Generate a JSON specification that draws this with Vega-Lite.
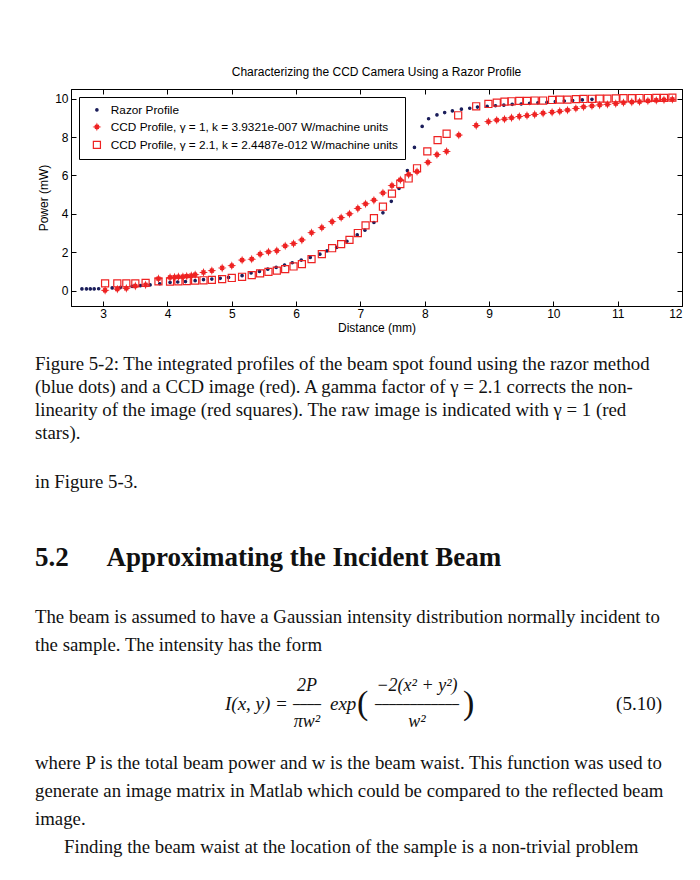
{
  "$schema": "https://vega.github.io/schema/vega-lite/v6.json",
  "background": "white",
  "padding": {"left": 35, "top": 65, "right": 5, "bottom": 0},
  "spacing": 0,
  "bounds": "flush",
  "config": {
    "view": {"stroke": null},
    "font": "Liberation Sans",
    "axis": {
      "grid": false,
      "domainColor": "#000",
      "tickColor": "#000",
      "labelColor": "#000",
      "titleColor": "#000",
      "labelFont": "Liberation Sans",
      "labelFontSize": 12,
      "titleFont": "Liberation Sans",
      "titleFontSize": 12,
      "titleFontWeight": "normal",
      "tickSize": -5,
      "labelPadding": 8
    },
    "legend": {
      "orient": "top-left",
      "offset": 8,
      "padding": 7,
      "fillColor": "#fff",
      "strokeColor": "#000",
      "labelFont": "Liberation Sans",
      "labelFontSize": 11.8,
      "labelColor": "#000",
      "labelLimit": 0,
      "rowPadding": 4,
      "symbolOffset": 5,
      "labelOffset": 8,
      "symbolStrokeWidth": 1.2
    }
  },
  "vconcat": [
    {
      "width": 611,
      "height": 217,
      "view": {"stroke": "#000", "strokeWidth": 1},
      "title": {"text": "Characterizing the CCD Camera Using a Razor Profile", "font": "Liberation Sans", "fontSize": 12, "fontWeight": "normal", "color": "#000", "offset": 10},
      "data": {"values": [
        {"series": "Razor Profile", "distance": 2.67, "power": 0.09},
        {"series": "Razor Profile", "distance": 2.74, "power": 0.09},
        {"series": "Razor Profile", "distance": 2.80, "power": 0.09},
        {"series": "Razor Profile", "distance": 2.86, "power": 0.09},
        {"series": "Razor Profile", "distance": 2.93, "power": 0.10},
        {"series": "Razor Profile", "distance": 3.14, "power": 0.14},
        {"series": "Razor Profile", "distance": 3.27, "power": 0.17},
        {"series": "Razor Profile", "distance": 3.45, "power": 0.22},
        {"series": "Razor Profile", "distance": 3.58, "power": 0.26},
        {"series": "Razor Profile", "distance": 3.73, "power": 0.30},
        {"series": "Razor Profile", "distance": 3.88, "power": 0.36},
        {"series": "Razor Profile", "distance": 4.04, "power": 0.43},
        {"series": "Razor Profile", "distance": 4.16, "power": 0.45},
        {"series": "Razor Profile", "distance": 4.28, "power": 0.47},
        {"series": "Razor Profile", "distance": 4.43, "power": 0.52},
        {"series": "Razor Profile", "distance": 4.56, "power": 0.57},
        {"series": "Razor Profile", "distance": 4.69, "power": 0.60},
        {"series": "Razor Profile", "distance": 4.82, "power": 0.64},
        {"series": "Razor Profile", "distance": 4.95, "power": 0.69},
        {"series": "Razor Profile", "distance": 5.16, "power": 0.78},
        {"series": "Razor Profile", "distance": 5.30, "power": 0.92},
        {"series": "Razor Profile", "distance": 5.43, "power": 1.00},
        {"series": "Razor Profile", "distance": 5.56, "power": 1.12},
        {"series": "Razor Profile", "distance": 5.69, "power": 1.21},
        {"series": "Razor Profile", "distance": 5.82, "power": 1.33},
        {"series": "Razor Profile", "distance": 5.94, "power": 1.45},
        {"series": "Razor Profile", "distance": 6.08, "power": 1.59},
        {"series": "Razor Profile", "distance": 6.22, "power": 1.73},
        {"series": "Razor Profile", "distance": 6.37, "power": 1.90},
        {"series": "Razor Profile", "distance": 6.48, "power": 2.07},
        {"series": "Razor Profile", "distance": 6.63, "power": 2.25},
        {"series": "Razor Profile", "distance": 6.79, "power": 2.57},
        {"series": "Razor Profile", "distance": 6.95, "power": 2.90},
        {"series": "Razor Profile", "distance": 7.07, "power": 3.15},
        {"series": "Razor Profile", "distance": 7.21, "power": 3.55},
        {"series": "Razor Profile", "distance": 7.35, "power": 4.05},
        {"series": "Razor Profile", "distance": 7.48, "power": 4.65},
        {"series": "Razor Profile", "distance": 7.60, "power": 5.32},
        {"series": "Razor Profile", "distance": 7.73, "power": 6.25},
        {"series": "Razor Profile", "distance": 7.84, "power": 7.46},
        {"series": "Razor Profile", "distance": 7.96, "power": 8.55},
        {"series": "Razor Profile", "distance": 8.06, "power": 8.95},
        {"series": "Razor Profile", "distance": 8.19, "power": 9.15},
        {"series": "Razor Profile", "distance": 8.31, "power": 9.27},
        {"series": "Razor Profile", "distance": 8.43, "power": 9.36},
        {"series": "Razor Profile", "distance": 8.57, "power": 9.45},
        {"series": "Razor Profile", "distance": 8.70, "power": 9.50},
        {"series": "Razor Profile", "distance": 8.82, "power": 9.56},
        {"series": "Razor Profile", "distance": 8.97, "power": 9.60},
        {"series": "Razor Profile", "distance": 9.10, "power": 9.63},
        {"series": "Razor Profile", "distance": 9.23, "power": 9.66},
        {"series": "Razor Profile", "distance": 9.36, "power": 9.70},
        {"series": "Razor Profile", "distance": 9.50, "power": 9.72},
        {"series": "Razor Profile", "distance": 9.63, "power": 9.75},
        {"series": "Razor Profile", "distance": 9.76, "power": 9.78},
        {"series": "Razor Profile", "distance": 9.90, "power": 9.80},
        {"series": "Razor Profile", "distance": 10.03, "power": 9.84},
        {"series": "Razor Profile", "distance": 10.17, "power": 9.87},
        {"series": "Razor Profile", "distance": 10.30, "power": 9.90},
        {"series": "Razor Profile", "distance": 10.45, "power": 9.93},
        {"series": "Razor Profile", "distance": 10.60, "power": 9.96},

        {"series": "CCD Profile, γ = 1, k = 3.9321e-007 W/machine units", "distance": 3.03, "power": 0.02},
        {"series": "CCD Profile, γ = 1, k = 3.9321e-007 W/machine units", "distance": 3.22, "power": 0.08},
        {"series": "CCD Profile, γ = 1, k = 3.9321e-007 W/machine units", "distance": 3.36, "power": 0.12},
        {"series": "CCD Profile, γ = 1, k = 3.9321e-007 W/machine units", "distance": 3.50, "power": 0.24},
        {"series": "CCD Profile, γ = 1, k = 3.9321e-007 W/machine units", "distance": 3.66, "power": 0.30},
        {"series": "CCD Profile, γ = 1, k = 3.9321e-007 W/machine units", "distance": 3.86, "power": 0.62},
        {"series": "CCD Profile, γ = 1, k = 3.9321e-007 W/machine units", "distance": 4.04, "power": 0.69},
        {"series": "CCD Profile, γ = 1, k = 3.9321e-007 W/machine units", "distance": 4.11, "power": 0.70},
        {"series": "CCD Profile, γ = 1, k = 3.9321e-007 W/machine units", "distance": 4.17, "power": 0.72},
        {"series": "CCD Profile, γ = 1, k = 3.9321e-007 W/machine units", "distance": 4.24, "power": 0.73},
        {"series": "CCD Profile, γ = 1, k = 3.9321e-007 W/machine units", "distance": 4.30, "power": 0.75},
        {"series": "CCD Profile, γ = 1, k = 3.9321e-007 W/machine units", "distance": 4.37, "power": 0.78},
        {"series": "CCD Profile, γ = 1, k = 3.9321e-007 W/machine units", "distance": 4.43, "power": 0.83},
        {"series": "CCD Profile, γ = 1, k = 3.9321e-007 W/machine units", "distance": 4.56, "power": 0.95},
        {"series": "CCD Profile, γ = 1, k = 3.9321e-007 W/machine units", "distance": 4.69, "power": 1.04},
        {"series": "CCD Profile, γ = 1, k = 3.9321e-007 W/machine units", "distance": 4.85, "power": 1.18},
        {"series": "CCD Profile, γ = 1, k = 3.9321e-007 W/machine units", "distance": 5.00, "power": 1.30},
        {"series": "CCD Profile, γ = 1, k = 3.9321e-007 W/machine units", "distance": 5.16, "power": 1.59},
        {"series": "CCD Profile, γ = 1, k = 3.9321e-007 W/machine units", "distance": 5.31, "power": 1.64},
        {"series": "CCD Profile, γ = 1, k = 3.9321e-007 W/machine units", "distance": 5.44, "power": 1.90},
        {"series": "CCD Profile, γ = 1, k = 3.9321e-007 W/machine units", "distance": 5.57, "power": 2.02},
        {"series": "CCD Profile, γ = 1, k = 3.9321e-007 W/machine units", "distance": 5.70, "power": 2.08},
        {"series": "CCD Profile, γ = 1, k = 3.9321e-007 W/machine units", "distance": 5.83, "power": 2.33},
        {"series": "CCD Profile, γ = 1, k = 3.9321e-007 W/machine units", "distance": 5.96, "power": 2.45},
        {"series": "CCD Profile, γ = 1, k = 3.9321e-007 W/machine units", "distance": 6.09, "power": 2.64},
        {"series": "CCD Profile, γ = 1, k = 3.9321e-007 W/machine units", "distance": 6.24, "power": 3.02},
        {"series": "CCD Profile, γ = 1, k = 3.9321e-007 W/machine units", "distance": 6.40, "power": 3.28},
        {"series": "CCD Profile, γ = 1, k = 3.9321e-007 W/machine units", "distance": 6.56, "power": 3.59},
        {"series": "CCD Profile, γ = 1, k = 3.9321e-007 W/machine units", "distance": 6.70, "power": 3.80},
        {"series": "CCD Profile, γ = 1, k = 3.9321e-007 W/machine units", "distance": 6.83, "power": 4.00},
        {"series": "CCD Profile, γ = 1, k = 3.9321e-007 W/machine units", "distance": 6.96, "power": 4.28},
        {"series": "CCD Profile, γ = 1, k = 3.9321e-007 W/machine units", "distance": 7.08, "power": 4.52},
        {"series": "CCD Profile, γ = 1, k = 3.9321e-007 W/machine units", "distance": 7.21, "power": 4.71},
        {"series": "CCD Profile, γ = 1, k = 3.9321e-007 W/machine units", "distance": 7.35, "power": 5.09},
        {"series": "CCD Profile, γ = 1, k = 3.9321e-007 W/machine units", "distance": 7.49, "power": 5.47},
        {"series": "CCD Profile, γ = 1, k = 3.9321e-007 W/machine units", "distance": 7.62, "power": 5.77},
        {"series": "CCD Profile, γ = 1, k = 3.9321e-007 W/machine units", "distance": 7.75, "power": 6.05},
        {"series": "CCD Profile, γ = 1, k = 3.9321e-007 W/machine units", "distance": 7.88, "power": 6.20},
        {"series": "CCD Profile, γ = 1, k = 3.9321e-007 W/machine units", "distance": 8.05, "power": 6.68},
        {"series": "CCD Profile, γ = 1, k = 3.9321e-007 W/machine units", "distance": 8.19, "power": 7.08},
        {"series": "CCD Profile, γ = 1, k = 3.9321e-007 W/machine units", "distance": 8.34, "power": 7.25},
        {"series": "CCD Profile, γ = 1, k = 3.9321e-007 W/machine units", "distance": 8.53, "power": 8.10},
        {"series": "CCD Profile, γ = 1, k = 3.9321e-007 W/machine units", "distance": 8.80, "power": 8.60},
        {"series": "CCD Profile, γ = 1, k = 3.9321e-007 W/machine units", "distance": 8.99, "power": 8.80},
        {"series": "CCD Profile, γ = 1, k = 3.9321e-007 W/machine units", "distance": 9.12, "power": 8.88},
        {"series": "CCD Profile, γ = 1, k = 3.9321e-007 W/machine units", "distance": 9.24, "power": 8.93},
        {"series": "CCD Profile, γ = 1, k = 3.9321e-007 W/machine units", "distance": 9.35, "power": 9.00},
        {"series": "CCD Profile, γ = 1, k = 3.9321e-007 W/machine units", "distance": 9.47, "power": 9.07},
        {"series": "CCD Profile, γ = 1, k = 3.9321e-007 W/machine units", "distance": 9.59, "power": 9.12},
        {"series": "CCD Profile, γ = 1, k = 3.9321e-007 W/machine units", "distance": 9.71, "power": 9.17},
        {"series": "CCD Profile, γ = 1, k = 3.9321e-007 W/machine units", "distance": 9.84, "power": 9.24},
        {"series": "CCD Profile, γ = 1, k = 3.9321e-007 W/machine units", "distance": 9.98, "power": 9.29},
        {"series": "CCD Profile, γ = 1, k = 3.9321e-007 W/machine units", "distance": 10.10, "power": 9.34},
        {"series": "CCD Profile, γ = 1, k = 3.9321e-007 W/machine units", "distance": 10.22, "power": 9.40},
        {"series": "CCD Profile, γ = 1, k = 3.9321e-007 W/machine units", "distance": 10.35, "power": 9.49},
        {"series": "CCD Profile, γ = 1, k = 3.9321e-007 W/machine units", "distance": 10.47, "power": 9.57},
        {"series": "CCD Profile, γ = 1, k = 3.9321e-007 W/machine units", "distance": 10.60, "power": 9.62},
        {"series": "CCD Profile, γ = 1, k = 3.9321e-007 W/machine units", "distance": 10.72, "power": 9.67},
        {"series": "CCD Profile, γ = 1, k = 3.9321e-007 W/machine units", "distance": 10.84, "power": 9.70},
        {"series": "CCD Profile, γ = 1, k = 3.9321e-007 W/machine units", "distance": 10.97, "power": 9.74},
        {"series": "CCD Profile, γ = 1, k = 3.9321e-007 W/machine units", "distance": 11.09, "power": 9.79},
        {"series": "CCD Profile, γ = 1, k = 3.9321e-007 W/machine units", "distance": 11.22, "power": 9.82},
        {"series": "CCD Profile, γ = 1, k = 3.9321e-007 W/machine units", "distance": 11.34, "power": 9.84},
        {"series": "CCD Profile, γ = 1, k = 3.9321e-007 W/machine units", "distance": 11.47, "power": 9.88},
        {"series": "CCD Profile, γ = 1, k = 3.9321e-007 W/machine units", "distance": 11.60, "power": 9.91},
        {"series": "CCD Profile, γ = 1, k = 3.9321e-007 W/machine units", "distance": 11.72, "power": 9.94},
        {"series": "CCD Profile, γ = 1, k = 3.9321e-007 W/machine units", "distance": 11.85, "power": 9.96},

        {"series": "CCD Profile, γ = 2.1, k = 2.4487e-012 W/machine units", "distance": 3.03, "power": 0.38},
        {"series": "CCD Profile, γ = 2.1, k = 2.4487e-012 W/machine units", "distance": 3.22, "power": 0.38},
        {"series": "CCD Profile, γ = 2.1, k = 2.4487e-012 W/machine units", "distance": 3.36, "power": 0.38},
        {"series": "CCD Profile, γ = 2.1, k = 2.4487e-012 W/machine units", "distance": 3.50, "power": 0.38},
        {"series": "CCD Profile, γ = 2.1, k = 2.4487e-012 W/machine units", "distance": 3.66, "power": 0.40},
        {"series": "CCD Profile, γ = 2.1, k = 2.4487e-012 W/machine units", "distance": 3.86, "power": 0.48},
        {"series": "CCD Profile, γ = 2.1, k = 2.4487e-012 W/machine units", "distance": 4.04, "power": 0.47},
        {"series": "CCD Profile, γ = 2.1, k = 2.4487e-012 W/machine units", "distance": 4.17, "power": 0.48},
        {"series": "CCD Profile, γ = 2.1, k = 2.4487e-012 W/machine units", "distance": 4.30, "power": 0.50},
        {"series": "CCD Profile, γ = 2.1, k = 2.4487e-012 W/machine units", "distance": 4.43, "power": 0.52},
        {"series": "CCD Profile, γ = 2.1, k = 2.4487e-012 W/machine units", "distance": 4.56, "power": 0.54},
        {"series": "CCD Profile, γ = 2.1, k = 2.4487e-012 W/machine units", "distance": 4.69, "power": 0.56},
        {"series": "CCD Profile, γ = 2.1, k = 2.4487e-012 W/machine units", "distance": 4.85, "power": 0.60},
        {"series": "CCD Profile, γ = 2.1, k = 2.4487e-012 W/machine units", "distance": 5.00, "power": 0.66},
        {"series": "CCD Profile, γ = 2.1, k = 2.4487e-012 W/machine units", "distance": 5.16, "power": 0.72},
        {"series": "CCD Profile, γ = 2.1, k = 2.4487e-012 W/machine units", "distance": 5.31, "power": 0.81},
        {"series": "CCD Profile, γ = 2.1, k = 2.4487e-012 W/machine units", "distance": 5.44, "power": 0.90},
        {"series": "CCD Profile, γ = 2.1, k = 2.4487e-012 W/machine units", "distance": 5.57, "power": 0.98},
        {"series": "CCD Profile, γ = 2.1, k = 2.4487e-012 W/machine units", "distance": 5.70, "power": 1.04},
        {"series": "CCD Profile, γ = 2.1, k = 2.4487e-012 W/machine units", "distance": 5.83, "power": 1.12},
        {"series": "CCD Profile, γ = 2.1, k = 2.4487e-012 W/machine units", "distance": 5.96, "power": 1.26},
        {"series": "CCD Profile, γ = 2.1, k = 2.4487e-012 W/machine units", "distance": 6.09, "power": 1.38},
        {"series": "CCD Profile, γ = 2.1, k = 2.4487e-012 W/machine units", "distance": 6.24, "power": 1.64},
        {"series": "CCD Profile, γ = 2.1, k = 2.4487e-012 W/machine units", "distance": 6.40, "power": 1.90},
        {"series": "CCD Profile, γ = 2.1, k = 2.4487e-012 W/machine units", "distance": 6.56, "power": 2.21},
        {"series": "CCD Profile, γ = 2.1, k = 2.4487e-012 W/machine units", "distance": 6.70, "power": 2.42},
        {"series": "CCD Profile, γ = 2.1, k = 2.4487e-012 W/machine units", "distance": 6.83, "power": 2.64},
        {"series": "CCD Profile, γ = 2.1, k = 2.4487e-012 W/machine units", "distance": 6.96, "power": 3.00},
        {"series": "CCD Profile, γ = 2.1, k = 2.4487e-012 W/machine units", "distance": 7.08, "power": 3.40},
        {"series": "CCD Profile, γ = 2.1, k = 2.4487e-012 W/machine units", "distance": 7.21, "power": 3.77},
        {"series": "CCD Profile, γ = 2.1, k = 2.4487e-012 W/machine units", "distance": 7.35, "power": 4.37},
        {"series": "CCD Profile, γ = 2.1, k = 2.4487e-012 W/machine units", "distance": 7.49, "power": 5.05},
        {"series": "CCD Profile, γ = 2.1, k = 2.4487e-012 W/machine units", "distance": 7.62, "power": 5.55},
        {"series": "CCD Profile, γ = 2.1, k = 2.4487e-012 W/machine units", "distance": 7.75, "power": 5.84},
        {"series": "CCD Profile, γ = 2.1, k = 2.4487e-012 W/machine units", "distance": 7.88, "power": 6.37},
        {"series": "CCD Profile, γ = 2.1, k = 2.4487e-012 W/machine units", "distance": 8.04, "power": 7.25},
        {"series": "CCD Profile, γ = 2.1, k = 2.4487e-012 W/machine units", "distance": 8.20, "power": 7.84},
        {"series": "CCD Profile, γ = 2.1, k = 2.4487e-012 W/machine units", "distance": 8.34, "power": 8.17},
        {"series": "CCD Profile, γ = 2.1, k = 2.4487e-012 W/machine units", "distance": 8.52, "power": 9.13},
        {"series": "CCD Profile, γ = 2.1, k = 2.4487e-012 W/machine units", "distance": 8.80, "power": 9.60},
        {"series": "CCD Profile, γ = 2.1, k = 2.4487e-012 W/machine units", "distance": 8.99, "power": 9.72},
        {"series": "CCD Profile, γ = 2.1, k = 2.4487e-012 W/machine units", "distance": 9.12, "power": 9.79},
        {"series": "CCD Profile, γ = 2.1, k = 2.4487e-012 W/machine units", "distance": 9.24, "power": 9.84},
        {"series": "CCD Profile, γ = 2.1, k = 2.4487e-012 W/machine units", "distance": 9.35, "power": 9.86},
        {"series": "CCD Profile, γ = 2.1, k = 2.4487e-012 W/machine units", "distance": 9.47, "power": 9.88},
        {"series": "CCD Profile, γ = 2.1, k = 2.4487e-012 W/machine units", "distance": 9.59, "power": 9.88},
        {"series": "CCD Profile, γ = 2.1, k = 2.4487e-012 W/machine units", "distance": 9.71, "power": 9.90},
        {"series": "CCD Profile, γ = 2.1, k = 2.4487e-012 W/machine units", "distance": 9.84, "power": 9.90},
        {"series": "CCD Profile, γ = 2.1, k = 2.4487e-012 W/machine units", "distance": 9.98, "power": 9.93},
        {"series": "CCD Profile, γ = 2.1, k = 2.4487e-012 W/machine units", "distance": 10.10, "power": 9.95},
        {"series": "CCD Profile, γ = 2.1, k = 2.4487e-012 W/machine units", "distance": 10.22, "power": 9.95},
        {"series": "CCD Profile, γ = 2.1, k = 2.4487e-012 W/machine units", "distance": 10.35, "power": 9.97},
        {"series": "CCD Profile, γ = 2.1, k = 2.4487e-012 W/machine units", "distance": 10.47, "power": 9.98},
        {"series": "CCD Profile, γ = 2.1, k = 2.4487e-012 W/machine units", "distance": 10.60, "power": 9.99},
        {"series": "CCD Profile, γ = 2.1, k = 2.4487e-012 W/machine units", "distance": 10.72, "power": 10.00},
        {"series": "CCD Profile, γ = 2.1, k = 2.4487e-012 W/machine units", "distance": 10.84, "power": 10.00},
        {"series": "CCD Profile, γ = 2.1, k = 2.4487e-012 W/machine units", "distance": 10.97, "power": 10.01},
        {"series": "CCD Profile, γ = 2.1, k = 2.4487e-012 W/machine units", "distance": 11.09, "power": 10.02},
        {"series": "CCD Profile, γ = 2.1, k = 2.4487e-012 W/machine units", "distance": 11.22, "power": 10.02},
        {"series": "CCD Profile, γ = 2.1, k = 2.4487e-012 W/machine units", "distance": 11.34, "power": 10.03},
        {"series": "CCD Profile, γ = 2.1, k = 2.4487e-012 W/machine units", "distance": 11.47, "power": 10.03},
        {"series": "CCD Profile, γ = 2.1, k = 2.4487e-012 W/machine units", "distance": 11.60, "power": 10.04},
        {"series": "CCD Profile, γ = 2.1, k = 2.4487e-012 W/machine units", "distance": 11.72, "power": 10.04},
        {"series": "CCD Profile, γ = 2.1, k = 2.4487e-012 W/machine units", "distance": 11.85, "power": 10.05}
      ]},
      "layer": [
        {
          "mark": {"type": "point", "opacity": 1, "strokeWidth": 1.2},
          "encoding": {
            "x": {"field": "distance", "type": "quantitative",
                  "scale": {"domain": [2.5, 12], "nice": false, "zero": false},
                  "axis": {"orient": "bottom", "values": [3, 4, 5, 6, 7, 8, 9, 10, 11, 12], "title": "Distance (mm)", "titlePadding": 3, "labelPadding": 7}},
            "y": {"field": "power", "type": "quantitative",
                  "scale": {"domain": [-0.8, 10.5], "nice": false, "zero": false},
                  "axis": {"orient": "left", "values": [0, 2, 4, 6, 8, 10], "title": "Power (mW)", "titlePadding": 4}},
            "shape": {"field": "series", "type": "nominal", "title": null,
                      "scale": {"domain": ["Razor Profile", "CCD Profile, γ = 1, k = 3.9321e-007 W/machine units", "CCD Profile, γ = 2.1, k = 2.4487e-012 W/machine units"],
                                "range": ["circle", "M0,-1L0.22,-0.38L0.71,-0.71L0.38,-0.22L1,0L0.38,0.22L0.71,0.71L0.22,0.38L0,1L-0.22,0.38L-0.71,0.71L-0.38,0.22L-1,0L-0.38,-0.22L-0.71,-0.71L-0.22,-0.38Z", "square"]}},
            "fill": {"field": "series", "type": "nominal", "title": null,
                     "scale": {"domain": ["Razor Profile", "CCD Profile, γ = 1, k = 3.9321e-007 W/machine units", "CCD Profile, γ = 2.1, k = 2.4487e-012 W/machine units"],
                               "range": ["#1a1d5a", "#ee2222", "transparent"]}},
            "stroke": {"field": "series", "type": "nominal", "title": null,
                       "scale": {"domain": ["Razor Profile", "CCD Profile, γ = 1, k = 3.9321e-007 W/machine units", "CCD Profile, γ = 2.1, k = 2.4487e-012 W/machine units"],
                                 "range": ["#1a1d5a", "#ee2222", "#ee2222"]}},
            "size": {"field": "series", "type": "nominal", "title": null,
                     "scale": {"domain": ["Razor Profile", "CCD Profile, γ = 1, k = 3.9321e-007 W/machine units", "CCD Profile, γ = 2.1, k = 2.4487e-012 W/machine units"],
                               "range": [6, 50, 40]}}
          }
        },
        {
          "mark": {"type": "point", "opacity": 0},
          "encoding": {
            "x": {"field": "distance", "type": "quantitative",
                  "axis": {"orient": "top", "values": [3, 4, 5, 6, 7, 8, 9, 10, 11, 12], "labels": false, "title": null}},
            "y": {"field": "power", "type": "quantitative",
                  "axis": {"orient": "right", "values": [0, 2, 4, 6, 8, 10], "labels": false, "title": null}}
          }
        }
      ],
      "resolve": {"axis": {"x": "independent", "y": "independent"}}
    },
    {
      "width": 584,
      "height": 138,
      "data": {"values": [
        {"line": 1, "indent": 0, "text": "Figure 5-2: The integrated profiles of the beam spot found using the razor method"},
        {"line": 2, "indent": 0, "text": "(blue dots) and a CCD image (red).  A gamma factor of γ = 2.1 corrects the non-"},
        {"line": 3, "indent": 0, "text": "linearity of the image (red squares).  The raw image is indicated with γ = 1 (red"},
        {"line": 4, "indent": 0, "text": "stars)."}
      ]},
      "mark": {"type": "text", "align": "left", "baseline": "middle", "font": "Liberation Serif", "fontSize": 18.8, "color": "#111"},
      "encoding": {
        "x": {"field": "indent", "type": "quantitative", "scale": {"domain": [0, 1], "range": [-36, -7], "nice": false, "zero": false}, "axis": null},
        "y": {"field": "line", "type": "quantitative", "scale": {"domain": [-1.5, 4.5], "reverse": true, "nice": false, "zero": false}, "axis": null},
        "text": {"field": "text"}
      }
    },
    {
      "width": 584,
      "height": 76,
      "data": {"values": [
        {"line": 1, "indent": 0, "text": "in Figure 5-3."}
      ]},
      "mark": {"type": "text", "align": "left", "baseline": "middle", "font": "Liberation Serif", "fontSize": 18.8, "color": "#111"},
      "encoding": {
        "x": {"field": "indent", "type": "quantitative", "scale": {"domain": [0, 1], "range": [-36, -7], "nice": false, "zero": false}, "axis": null},
        "y": {"field": "line", "type": "quantitative", "scale": {"domain": [0, 2], "reverse": true, "nice": false, "zero": false}, "axis": null},
        "text": {"field": "text"}
      }
    },
    {
      "width": 584,
      "height": 76,
      "data": {"values": [
        {"line": 1, "indent": 0, "text": "5.2\u2003\u2009\u2009Approximating the Incident Beam"}
      ]},
      "mark": {"type": "text", "align": "left", "baseline": "middle", "font": "Liberation Serif", "fontSize": 27, "fontWeight": "bold", "color": "#111"},
      "encoding": {
        "x": {"field": "indent", "type": "quantitative", "scale": {"domain": [0, 1], "range": [-36, -7], "nice": false, "zero": false}, "axis": null},
        "y": {"field": "line", "type": "quantitative", "scale": {"domain": [0, 2], "reverse": true, "nice": false, "zero": false}, "axis": null},
        "text": {"field": "text"}
      }
    },
    {
      "width": 584,
      "height": 70,
      "data": {"values": [
        {"line": 1, "indent": 0, "text": "The beam is assumed to have a Gaussian intensity distribution normally incident to"},
        {"line": 2, "indent": 0, "text": "the sample.  The intensity has the form"}
      ]},
      "mark": {"type": "text", "align": "left", "baseline": "middle", "font": "Liberation Serif", "fontSize": 18.8, "color": "#111"},
      "encoding": {
        "x": {"field": "indent", "type": "quantitative", "scale": {"domain": [0, 1], "range": [-36, -7], "nice": false, "zero": false}, "axis": null},
        "y": {"field": "line", "type": "quantitative", "scale": {"domain": [0.25, 2.75], "reverse": true, "nice": false, "zero": false}, "axis": null},
        "text": {"field": "text"}
      }
    },
    {
      "width": 584,
      "height": 76,
      "data": {"values": [
        {"part": "lhs", "line": 2, "indent": 0, "text": "I(x, y) ="},
        {"part": "frac1", "line": 1, "indent": 0, "text": "2P"},
        {"part": "frac1", "line": 3, "indent": 0, "text": "πw²"},
        {"part": "bar1", "line": 2, "indent": 0, "text": "––––"},
        {"part": "exp", "line": 2, "indent": 0, "text": "exp"},
        {"part": "lparen", "line": 2, "indent": 0, "text": "("},
        {"part": "frac2", "line": 1, "indent": 0, "text": "−2(x² + y²)"},
        {"part": "frac2", "line": 3, "indent": 0, "text": "w²"},
        {"part": "bar2", "line": 2, "indent": 0, "text": "––––––––––––"},
        {"part": "rparen", "line": 2, "indent": 0, "text": ")"},
        {"part": "number", "line": 2, "indent": 0, "text": "(5.10)"}
      ]},
      "encoding": {
        "x": {"field": "indent", "type": "quantitative", "scale": {"domain": [0, 1], "range": [-36, -7], "nice": false, "zero": false}, "axis": null},
        "y": {"field": "line", "type": "quantitative", "scale": {"domain": [-0.1111, 4.1111], "reverse": true, "nice": false, "zero": false}, "axis": null},
        "text": {"field": "text"}
      },
      "layer": [
        {
          "transform": [{"filter": "datum.part === 'lhs'"}],
          "mark": {"type": "text", "align": "left", "baseline": "middle", "dx": 190, "font": "Liberation Serif", "fontSize": 19, "fontStyle": "italic", "color": "#111"}
        },
        {
          "transform": [{"filter": "datum.part === 'frac1'"}],
          "mark": {"type": "text", "align": "center", "baseline": "middle", "dx": 272, "font": "Liberation Serif", "fontSize": 18, "fontStyle": "italic", "color": "#111"}
        },
        {
          "transform": [{"filter": "datum.part === 'bar1'"}],
          "mark": {"type": "text", "align": "center", "baseline": "middle", "dx": 272, "font": "Liberation Serif", "fontSize": 14, "fontWeight": "bold", "color": "#111"}
        },
        {
          "transform": [{"filter": "datum.part === 'exp'"}],
          "mark": {"type": "text", "align": "left", "baseline": "middle", "dx": 295, "font": "Liberation Serif", "fontSize": 19, "fontStyle": "italic", "color": "#111"}
        },
        {
          "transform": [{"filter": "datum.part === 'lparen'"}],
          "mark": {"type": "text", "align": "left", "baseline": "middle", "dx": 322, "font": "Liberation Serif", "fontSize": 34, "color": "#111"}
        },
        {
          "transform": [{"filter": "datum.part === 'frac2'"}],
          "mark": {"type": "text", "align": "center", "baseline": "middle", "dx": 382, "font": "Liberation Serif", "fontSize": 18, "fontStyle": "italic", "color": "#111"}
        },
        {
          "transform": [{"filter": "datum.part === 'bar2'"}],
          "mark": {"type": "text", "align": "center", "baseline": "middle", "dx": 382, "font": "Liberation Serif", "fontSize": 14, "fontWeight": "bold", "color": "#111"}
        },
        {
          "transform": [{"filter": "datum.part === 'rparen'"}],
          "mark": {"type": "text", "align": "left", "baseline": "middle", "dx": 428, "font": "Liberation Serif", "fontSize": 34, "color": "#111"}
        },
        {
          "transform": [{"filter": "datum.part === 'number'"}],
          "mark": {"type": "text", "align": "right", "baseline": "middle", "dx": 627, "font": "Liberation Serif", "fontSize": 19, "color": "#111"}
        }
      ]
    },
    {
      "width": 584,
      "height": 139,
      "data": {"values": [
        {"line": 1, "indent": 0, "text": "where P is the total beam power and w is the beam waist.  This function was used to"},
        {"line": 2, "indent": 0, "text": "generate an image matrix in Matlab which could be compared to the reflected beam"},
        {"line": 3, "indent": 0, "text": "image."},
        {"line": 4, "indent": 1, "text": "Finding the beam waist at the location of the sample is a non-trivial problem"}
      ]},
      "mark": {"type": "text", "align": "left", "baseline": "middle", "font": "Liberation Serif", "fontSize": 18.8, "color": "#111"},
      "encoding": {
        "x": {"field": "indent", "type": "quantitative", "scale": {"domain": [0, 1], "range": [-36, -7], "nice": false, "zero": false}, "axis": null},
        "y": {"field": "line", "type": "quantitative", "scale": {"domain": [0.25, 5.214], "reverse": true, "nice": false, "zero": false}, "axis": null},
        "text": {"field": "text"}
      }
    }
  ]
}
